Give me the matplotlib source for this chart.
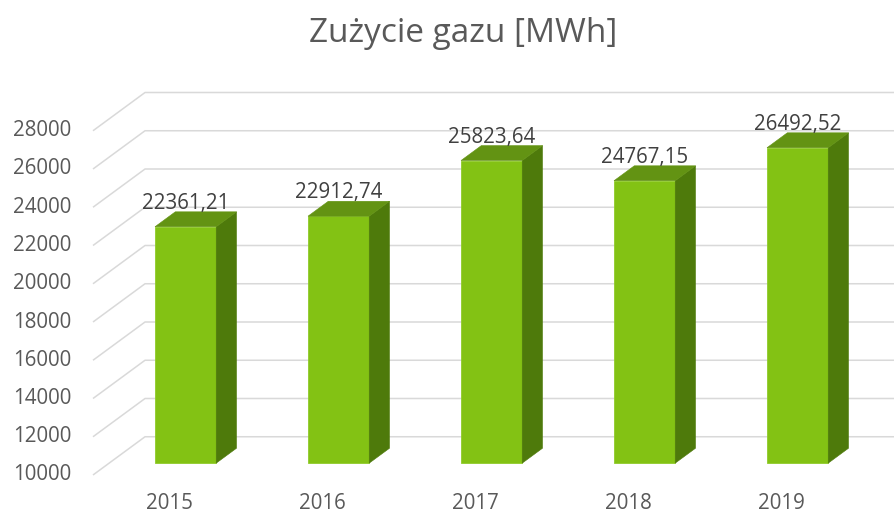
import numpy as np
import matplotlib.pyplot as plt
from matplotlib.patches import Polygon

plt.rcParams['font.family'] = ['Open Sans', 'DejaVu Sans']

# data
years = ['2015', '2016', '2017', '2018', '2019']
usage = [22361.21, 22912.74, 25823.64, 24767.15, 26492.52]
labels = ['22361,21', '22912,74', '25823,64', '24767,15', '26492,52']
yticks = list(range(10000, 28001, 2000))

title = 'Zużycie gazu [MWh]'

# look of the fake 3d
DX = 0.34      # depth offset in category units
DY = 2000.0    # depth offset in value units
d0, d1 = 0.31, 0.70   # bar depth range
half_w = 0.2
base = 10000

c_front = '#83C214'
c_top = '#639313'
c_side = '#4E7A0B'
c_grid = '#D9D9D9'


def proj(x, v, d):
    return (x + DX * d, v + DY * d)


fig = plt.figure(figsize=(8.94, 5.15), dpi=100)
ax = fig.add_axes([93 / 894, 40 / 515, 801 / 894, 395 / 515])
xmax = -0.5 + 801 / 153
ax.set_xlim(-0.5, xmax)
ax.set_ylim(base, base + 395 / 38.25 * 2000)
ax.axis('off')

# gridlines: front edge -> slanted wall -> back
for v in yticks:
    p0 = proj(-0.5, v, 0)
    p1 = proj(-0.5, v, 1)
    ax.plot([p0[0], p1[0], xmax + 1], [p0[1], p1[1], p1[1]],
            color=c_grid, lw=1.1, zorder=1, clip_on=False, solid_capstyle='butt')
    ax.annotate(f'{v}', xy=p0, xytext=(-15.5, 0), textcoords='offset points',
                ha='right', va='center', fontsize=14.8, color='#595959')

for i, (val, lab) in enumerate(zip(usage, labels)):
    xl, xr = i - half_w, i + half_w
    front = [proj(xl, base, d0), proj(xr, base, d0), proj(xr, val, d0), proj(xl, val, d0)]
    side = [proj(xr, base, d0), proj(xr, base, d1), proj(xr, val, d1), proj(xr, val, d0)]
    top = [proj(xl, val, d0), proj(xr, val, d0), proj(xr, val, d1), proj(xl, val, d1)]
    ax.add_patch(Polygon(front, closed=True, fc=c_front, ec='#8FCB2A', lw=0.6, zorder=3))
    ax.add_patch(Polygon(side, closed=True, fc=c_side, ec=c_side, lw=0.4, zorder=3))
    ax.add_patch(Polygon(top, closed=True, fc=c_top, ec=c_top, lw=0.4, zorder=3))

    lx, _ = proj(i, val, d0)
    _, ly = proj(i, val, d1)
    ax.annotate(lab, xy=(lx, ly), xytext=(0, 2.2), textcoords='offset points',
                ha='center', va='baseline', fontsize=14.8, color='#404040', zorder=4)

    ax.annotate(years[i], xy=(i, base), xytext=(0, -20.5), textcoords='offset points',
                ha='center', va='center', fontsize=14.8, color='#595959')

fig.text(0.518, 1 - 33 / 515, title, ha='center', va='center', fontsize=24, color='#595959')

fig.savefig('out.png', dpi=100)
